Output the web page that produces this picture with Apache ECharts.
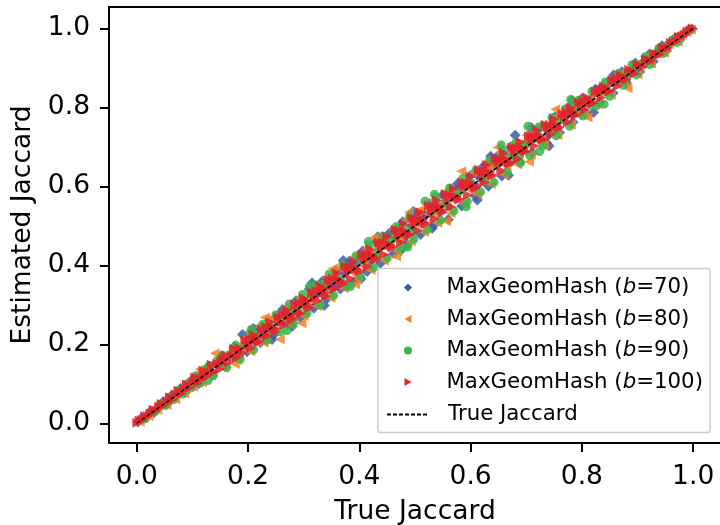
<!DOCTYPE html>
<html><head><meta charset="utf-8">
<script src="https://cdn.jsdelivr.net/npm/echarts@6/dist/echarts.min.js"></script>
<style>html,body{margin:0;padding:0;background:#fff;overflow:hidden}#c{width:720px;height:525px}</style></head>
<body><div id="c"></div>
<script>
const tickValues=[0,0.2,0.4,0.6,0.8,1.0];
const b70=[[0.002,0.003],[0.009,0.013],[0.016,0.013],[0.024,0.029],[0.031,0.027],[0.039,0.041],[0.047,0.054],[0.055,0.049],[0.063,0.071],[0.071,0.069],[0.079,0.088],[0.087,0.078],[0.095,0.098],[0.103,0.115],[0.111,0.1],[0.119,0.12],[0.127,0.141],[0.135,0.121],[0.143,0.15],[0.151,0.168],[0.159,0.143],[0.167,0.169],[0.175,0.194],[0.183,0.17],[0.19,0.225],[0.198,0.181],[0.206,0.21],[0.214,0.236],[0.222,0.204],[0.23,0.239],[0.238,0.261],[0.246,0.224],[0.254,0.258],[0.262,0.288],[0.27,0.25],[0.278,0.283],[0.286,0.31],[0.294,0.268],[0.302,0.31],[0.31,0.34],[0.318,0.291],[0.326,0.33],[0.334,0.36],[0.342,0.316],[0.35,0.358],[0.358,0.387],[0.366,0.34],[0.374,0.379],[0.382,0.41],[0.39,0.358],[0.398,0.407],[0.406,0.436],[0.414,0.384],[0.422,0.426],[0.43,0.46],[0.438,0.405],[0.446,0.455],[0.454,0.482],[0.462,0.43],[0.47,0.476],[0.478,0.51],[0.486,0.452],[0.494,0.5],[0.502,0.53],[0.51,0.478],[0.518,0.525],[0.526,0.556],[0.534,0.502],[0.542,0.548],[0.55,0.578],[0.56,0.516],[0.568,0.574],[0.576,0.606],[0.584,0.55],[0.592,0.6],[0.6,0.628],[0.608,0.576],[0.616,0.622],[0.624,0.652],[0.632,0.6],[0.64,0.648],[0.648,0.676],[0.656,0.626],[0.664,0.67],[0.672,0.7],[0.68,0.729],[0.688,0.66],[0.696,0.703],[0.704,0.73],[0.712,0.684],[0.72,0.726],[0.728,0.752],[0.736,0.71],[0.744,0.75],[0.752,0.776],[0.76,0.736],[0.768,0.772],[0.776,0.8],[0.784,0.762],[0.792,0.798],[0.8,0.822],[0.808,0.784],[0.816,0.82],[0.824,0.846],[0.832,0.812],[0.84,0.846],[0.848,0.866],[0.856,0.836],[0.864,0.868],[0.872,0.89],[0.88,0.862],[0.888,0.893],[0.896,0.912],[0.904,0.89],[0.912,0.916],[0.92,0.933],[0.928,0.916],[0.936,0.94],[0.944,0.956],[0.952,0.943],[0.96,0.963],[0.968,0.976],[0.976,0.971],[0.984,0.987],[0.992,0.995],[0.998,0.998],
[0.209,0.24],[0.243,0.212],[0.279,0.245],[0.315,0.355],[0.337,0.298],[0.371,0.412],[0.403,0.366],[0.433,0.472],[0.474,0.437],[0.497,0.536],[0.531,0.494],[0.612,0.565],[0.636,0.676],[0.668,0.628],[0.709,0.749],[0.741,0.702],[0.782,0.818],[0.821,0.787],[0.857,0.882],
[0.224,0.218],[0.252,0.27],[0.288,0.28],[0.322,0.338],[0.354,0.346],[0.386,0.402],[0.418,0.409],[0.45,0.468],[0.482,0.471],[0.514,0.532],[0.546,0.536],[0.578,0.594],[0.61,0.6],[0.642,0.66],[0.674,0.663],[0.706,0.722],[0.738,0.727],[0.77,0.786],[0.802,0.794],[0.834,0.85]];
const b80=[[0.005,0.004],[0.013,0.017],[0.021,0.018],[0.029,0.034],[0.037,0.034],[0.045,0.05],[0.053,0.046],[0.061,0.068],[0.069,0.061],[0.077,0.086],[0.085,0.076],[0.093,0.103],[0.101,0.092],[0.109,0.124],[0.117,0.104],[0.125,0.128],[0.14,0.177],[0.133,0.12],[0.148,0.166],[0.156,0.14],[0.164,0.17],[0.172,0.191],[0.18,0.16],[0.188,0.192],[0.196,0.218],[0.204,0.182],[0.212,0.216],[0.22,0.245],[0.228,0.204],[0.236,0.24],[0.244,0.268],[0.257,0.213],[0.26,0.266],[0.268,0.295],[0.276,0.25],[0.284,0.29],[0.292,0.318],[0.3,0.272],[0.308,0.314],[0.316,0.344],[0.324,0.296],[0.332,0.336],[0.34,0.37],[0.348,0.318],[0.356,0.362],[0.364,0.393],[0.372,0.342],[0.38,0.386],[0.388,0.42],[0.396,0.366],[0.404,0.41],[0.412,0.443],[0.42,0.388],[0.428,0.434],[0.436,0.47],[0.444,0.412],[0.452,0.458],[0.46,0.492],[0.468,0.436],[0.476,0.483],[0.484,0.516],[0.492,0.46],[0.5,0.506],[0.508,0.54],[0.516,0.484],[0.524,0.53],[0.532,0.565],[0.54,0.508],[0.548,0.556],[0.556,0.588],[0.564,0.532],[0.572,0.578],[0.583,0.638],[0.588,0.556],[0.596,0.604],[0.604,0.636],[0.612,0.58],[0.62,0.628],[0.628,0.66],[0.636,0.606],[0.644,0.65],[0.652,0.684],[0.66,0.63],[0.668,0.675],[0.676,0.706],[0.684,0.655],[0.692,0.698],[0.7,0.73],[0.708,0.68],[0.716,0.722],[0.724,0.752],[0.732,0.704],[0.74,0.746],[0.748,0.774],[0.756,0.73],[0.764,0.77],[0.772,0.796],[0.78,0.756],[0.788,0.793],[0.796,0.818],[0.804,0.782],[0.812,0.818],[0.82,0.84],[0.828,0.808],[0.836,0.84],[0.844,0.862],[0.852,0.832],[0.86,0.864],[0.868,0.886],[0.876,0.86],[0.884,0.888],[0.892,0.908],[0.9,0.884],[0.908,0.912],[0.916,0.93],[0.924,0.91],[0.932,0.936],[0.94,0.951],[0.948,0.938],[0.956,0.96],[0.964,0.971],[0.972,0.966],[0.98,0.984],[0.988,0.99],[0.996,0.997],
[0.113,0.137],[0.176,0.15],[0.23,0.268],[0.296,0.253],[0.352,0.392],[0.392,0.352],[0.426,0.47],[0.466,0.422],[0.489,0.534],[0.556,0.512],[0.648,0.698],[0.705,0.662],[0.752,0.795],[0.81,0.775],[0.882,0.848],
[0.216,0.205],[0.248,0.262],[0.28,0.27],[0.312,0.326],[0.344,0.334],[0.376,0.392],[0.408,0.398],[0.44,0.456],[0.472,0.462],[0.504,0.522],[0.536,0.526],[0.568,0.584],[0.6,0.59],[0.632,0.65],[0.664,0.653],[0.696,0.712],[0.728,0.717],[0.76,0.776],[0.792,0.782],[0.824,0.84]];
const b90=[[0.007,0.009],[0.015,0.012],[0.023,0.027],[0.033,0.03],[0.041,0.048],[0.05,0.045],[0.058,0.066],[0.066,0.06],[0.074,0.083],[0.082,0.074],[0.09,0.1],[0.098,0.09],[0.106,0.12],[0.114,0.102],[0.122,0.132],[0.13,0.146],[0.138,0.122],[0.146,0.15],[0.154,0.172],[0.162,0.142],[0.17,0.176],[0.178,0.198],[0.186,0.162],[0.194,0.198],[0.202,0.226],[0.21,0.186],[0.218,0.224],[0.226,0.25],[0.234,0.21],[0.242,0.248],[0.25,0.275],[0.258,0.232],[0.266,0.272],[0.274,0.302],[0.282,0.254],[0.29,0.296],[0.298,0.326],[0.306,0.278],[0.314,0.32],[0.322,0.35],[0.33,0.3],[0.338,0.344],[0.346,0.378],[0.354,0.324],[0.362,0.368],[0.37,0.402],[0.378,0.346],[0.386,0.392],[0.394,0.424],[0.402,0.372],[0.41,0.417],[0.418,0.45],[0.426,0.394],[0.434,0.44],[0.442,0.474],[0.45,0.418],[0.458,0.464],[0.466,0.498],[0.474,0.442],[0.482,0.489],[0.49,0.524],[0.498,0.466],[0.506,0.514],[0.518,0.562],[0.522,0.49],[0.53,0.536],[0.538,0.572],[0.546,0.514],[0.554,0.56],[0.562,0.596],[0.57,0.538],[0.578,0.584],[0.586,0.62],[0.594,0.562],[0.602,0.608],[0.61,0.642],[0.618,0.586],[0.626,0.632],[0.634,0.666],[0.642,0.61],[0.65,0.656],[0.658,0.69],[0.666,0.636],[0.674,0.68],[0.682,0.712],[0.69,0.66],[0.703,0.752],[0.698,0.704],[0.706,0.678],[0.714,0.72],[0.722,0.75],[0.73,0.702],[0.738,0.744],[0.746,0.774],[0.754,0.728],[0.762,0.768],[0.77,0.796],[0.778,0.752],[0.786,0.792],[0.794,0.818],[0.802,0.778],[0.81,0.816],[0.818,0.84],[0.826,0.804],[0.834,0.84],[0.842,0.864],[0.85,0.828],[0.858,0.864],[0.866,0.886],[0.874,0.856],[0.882,0.886],[0.89,0.908],[0.898,0.882],[0.906,0.91],[0.914,0.928],[0.922,0.908],[0.93,0.934],[0.938,0.949],[0.946,0.936],[0.954,0.958],[0.962,0.97],[0.97,0.964],[0.978,0.982],[0.986,0.989],[0.994,0.996],
[0.128,0.108],[0.206,0.238],[0.27,0.235],[0.31,0.346],[0.384,0.346],[0.416,0.46],[0.487,0.446],[0.535,0.58],[0.592,0.548],[0.655,0.705],[0.724,0.688],[0.78,0.82],[0.84,0.808],
[0.144,0.158],[0.176,0.165],[0.208,0.222],[0.24,0.229],[0.272,0.286],[0.304,0.293],[0.336,0.352],[0.368,0.357],[0.4,0.416],[0.432,0.421],[0.464,0.48],[0.496,0.485],[0.528,0.544],[0.56,0.549],[0.592,0.608],[0.624,0.613],[0.656,0.672],[0.688,0.677],[0.72,0.736],[0.752,0.741],[0.784,0.8],[0.816,0.805],[0.848,0.862],[0.88,0.871]];
const b100=[[0.001,0.001],[0.005,0.007],[0.01,0.008],[0.015,0.018],[0.02,0.018],[0.025,0.024],[0.03,0.034],[0.035,0.032],[0.04,0.041],[0.045,0.049],[0.05,0.046],[0.055,0.056],[0.06,0.066],[0.065,0.06],[0.07,0.073],[0.075,0.082],[0.08,0.074],[0.085,0.086],[0.09,0.098],[0.095,0.089],[0.1,0.104],[0.105,0.116],[0.11,0.102],[0.115,0.113],[0.12,0.133],[0.125,0.117],[0.13,0.129],[0.135,0.148],[0.14,0.131],[0.145,0.15],[0.15,0.137],[0.155,0.163],[0.16,0.172],[0.165,0.154],[0.17,0.171],[0.175,0.188],[0.18,0.166],[0.185,0.19],[0.19,0.178],[0.195,0.21],[0.2,0.198],[0.205,0.19],[0.21,0.224],[0.215,0.218],[0.22,0.205],[0.225,0.238],[0.23,0.226],[0.235,0.221],[0.24,0.256],[0.245,0.241],[0.25,0.232],[0.255,0.268],[0.26,0.256],[0.265,0.249],[0.27,0.286],[0.275,0.275],[0.28,0.263],[0.285,0.3],[0.29,0.284],[0.295,0.278],[0.3,0.316],[0.305,0.309],[0.31,0.292],[0.315,0.331],[0.32,0.318],[0.325,0.31],[0.33,0.347],[0.335,0.342],[0.34,0.321],[0.345,0.362],[0.35,0.348],[0.355,0.34],[0.36,0.38],[0.365,0.362],[0.37,0.352],[0.375,0.396],[0.38,0.384],[0.385,0.366],[0.39,0.41],[0.395,0.392],[0.4,0.383],[0.405,0.426],[0.41,0.416],[0.415,0.396],[0.42,0.44],[0.425,0.424],[0.43,0.414],[0.435,0.458],[0.44,0.443],[0.445,0.427],[0.45,0.472],[0.455,0.452],[0.46,0.445],[0.465,0.49],[0.47,0.475],[0.475,0.458],[0.48,0.504],[0.485,0.484],[0.49,0.476],[0.495,0.52],[0.5,0.508],[0.505,0.489],[0.51,0.534],[0.515,0.516],[0.52,0.504],[0.525,0.55],[0.53,0.538],[0.535,0.518],[0.54,0.564],[0.545,0.548],[0.55,0.534],[0.555,0.58],[0.56,0.566],[0.565,0.548],[0.57,0.594],[0.575,0.574],[0.58,0.566],[0.585,0.61],[0.59,0.598],[0.595,0.578],[0.6,0.624],[0.605,0.606],[0.61,0.596],[0.615,0.64],[0.62,0.63],[0.625,0.61],[0.63,0.654],[0.635,0.636],[0.64,0.626],[0.645,0.67],[0.65,0.66],[0.655,0.64],[0.66,0.684],[0.665,0.668],[0.67,0.656],[0.675,0.698],[0.68,0.688],[0.685,0.67],[0.69,0.712],[0.695,0.696],[0.7,0.688],[0.705,0.727],[0.71,0.718],[0.715,0.702],[0.72,0.741],[0.725,0.728],[0.73,0.718],[0.735,0.756],[0.74,0.748],[0.745,0.732],[0.75,0.77],[0.755,0.756],[0.76,0.748],[0.765,0.784],[0.77,0.777],[0.775,0.762],[0.78,0.798],[0.785,0.788],[0.79,0.78],[0.795,0.812],[0.8,0.806],[0.805,0.793],[0.81,0.825],[0.815,0.816],[0.82,0.81],[0.825,0.84],[0.83,0.836],[0.835,0.824],[0.84,0.853],[0.845,0.846],[0.85,0.84],[0.855,0.868],[0.86,0.863],[0.865,0.854],[0.87,0.881],[0.875,0.876],[0.88,0.87],[0.885,0.895],[0.89,0.89],[0.895,0.885],[0.9,0.908],[0.905,0.906],[0.91,0.902],[0.915,0.921],[0.92,0.92],[0.925,0.917],[0.93,0.936],[0.935,0.934],[0.94,0.933],[0.945,0.95],[0.95,0.948],[0.955,0.95],[0.96,0.963],[0.965,0.964],[0.97,0.967],[0.975,0.978],[0.98,0.979],[0.985,0.984],[0.99,0.992],[0.995,0.995],[0.999,1.0],
[0.122,0.122],[0.152,0.153],[0.183,0.182],[0.212,0.211],[0.242,0.243],[0.272,0.271],[0.302,0.303],[0.332,0.331],[0.362,0.363],[0.392,0.391],[0.422,0.423],[0.452,0.451],[0.482,0.483],[0.512,0.511],[0.542,0.543],[0.572,0.571],[0.602,0.603],[0.632,0.631],[0.662,0.663],[0.692,0.691],[0.722,0.723],[0.752,0.751],[0.782,0.783],[0.812,0.811],[0.842,0.843],[0.872,0.871],
[0.203,0.212],[0.218,0.207],[0.233,0.243],[0.248,0.24],[0.263,0.274],[0.278,0.268],[0.293,0.304],[0.308,0.3],[0.323,0.335],[0.338,0.33],[0.353,0.366],[0.368,0.358],[0.383,0.396],[0.398,0.388],[0.413,0.426],[0.428,0.42],[0.443,0.457],[0.458,0.448],[0.473,0.487],[0.488,0.479],[0.503,0.517],[0.518,0.508],[0.533,0.548],[0.548,0.54],[0.563,0.578],[0.578,0.569],[0.593,0.608],[0.608,0.599],[0.623,0.639],[0.638,0.629],[0.653,0.668],[0.668,0.66],[0.683,0.697],[0.698,0.69],[0.713,0.727],[0.728,0.72],[0.743,0.756],[0.758,0.75],[0.773,0.786],[0.788,0.78],[0.803,0.816],[0.818,0.811],[0.833,0.845],[0.848,0.84],[0.863,0.873]];
const lineData=[[0,0],[1,1]];
const axisFont={fontFamily:'DejaVu Sans',fontSize:26.5,color:'#000'};
const legendFont={fontFamily:'DejaVu Sans',fontSize:21.3,color:'#000'};
const leftTriangle='path://M0 5L8.7 0L8.7 10Z',rightTriangle='path://M8.7 5L0 0L0 10Z';
const mk=(name,data,symbol,rot,size,color)=>({name,type:'scatter',data,symbol,symbolRotate:rot,symbolSize:size,
 clip:false,itemStyle:{color,opacity:0.85},emphasis:{disabled:true},animation:false});
const fmt=n=>{const m=n.match(/b=(\d+)/);return '{s|MaxGeomHash (}{i|b}{t|='+m[1]+')}';};
const chart=echarts.init(document.getElementById('c'),null,{renderer:'canvas'});
const tick={show:true,customValues:tickValues,length:9,lineStyle:{color:'#000',width:2}};
const axLabelX={...axisFont,margin:21,customValues:tickValues,formatter:v=>v.toFixed(1)};
const axLabelY={...axisFont,margin:19,customValues:tickValues,formatter:v=>v.toFixed(1)};
chart.setOption({
 animation:false,backgroundColor:'#fff',
 grid:{left:109,right:-1,top:7,bottom:82,outerBoundsMode:'none',show:true,borderColor:'#000',borderWidth:2,backgroundColor:'transparent'},
 xAxis:{type:'value',min:-0.05,max:1.05,name:'True Jaccard',nameLocation:'middle',nameGap:56,nameTextStyle:axisFont,
  axisLine:{show:false,onZero:false},splitLine:{show:false},axisTick:tick,axisLabel:axLabelX},
 yAxis:{type:'value',min:-0.05,max:1.054,name:'Estimated Jaccard',nameLocation:'middle',nameGap:68,nameTextStyle:axisFont,
  axisLine:{show:false,onZero:false},splitLine:{show:false},axisTick:tick,axisLabel:axLabelY},
 legend:[{left:404,top:277,orient:'vertical',itemGap:10.5,itemWidth:8,itemHeight:8,padding:0,selectedMode:false,z:10,
  data:[
   {name:'MaxGeomHash (b=70)',icon:'diamond',itemStyle:{opacity:1}},
   {name:'MaxGeomHash (b=80)',icon:leftTriangle,itemStyle:{opacity:1}},
   {name:'MaxGeomHash (b=90)',icon:'circle',itemStyle:{opacity:1}},
   {name:'MaxGeomHash (b=100)',icon:rightTriangle,itemStyle:{opacity:1}}],
  formatter:fmt,
  textStyle:{...legendFont,rich:{
    s:{...legendFont,padding:[0,0,0,29.5]},t:legendFont,
    i:{...legendFont,fontStyle:'italic'}}}},
  {left:386,top:404,orient:'vertical',itemWidth:42,itemHeight:10,padding:0,selectedMode:false,z:10,
   data:[{name:'True Jaccard',itemStyle:{opacity:0}}],
   formatter:n=>'{s|'+n+'}',
   textStyle:{...legendFont,rich:{s:{...legendFont,padding:[0,0,0,14]}}}}],
 graphic:[{type:'rect',z:8,silent:true,shape:{x:378,y:268.5,width:332,height:164,r:3},style:{fill:'#fff',stroke:'#ccc',lineWidth:1.5}}],
 series:[
  mk('MaxGeomHash (b=70)',b70,'diamond',0,11,'#3a5baa'),
  mk('MaxGeomHash (b=80)',b80,'triangle',90,10,'#f5821f'),
  mk('MaxGeomHash (b=90)',b90,'circle',0,9,'#3bb44a'),
  mk('MaxGeomHash (b=100)',b100,'triangle',-90,10,'#e8202a'),
  {name:'True Jaccard',type:'line',data:lineData,symbol:'none',z:5,silent:true,
   lineStyle:{color:'#000',width:1.4,type:[4,2]},itemStyle:{color:'#000'}}
 ]
});
</script></body></html>
